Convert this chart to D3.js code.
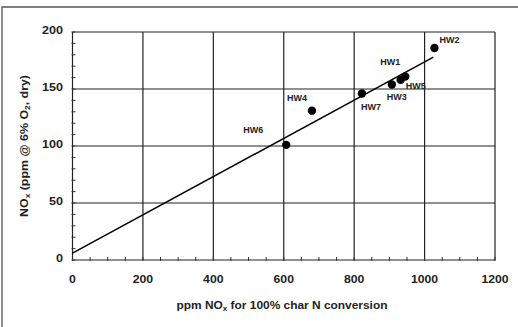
<!DOCTYPE html>
<html>
<head>
<meta charset="utf-8">
<script src="https://cdn.jsdelivr.net/npm/d3@7"></script>
<style>
  body { margin: 0; background: #fff; }
  svg { display: block; font-family: "Liberation Sans", Arial, sans-serif; }
</style>
</head>
<body>
<svg id="chart" width="518" height="327"></svg>
<script>
// data
var names = ["HW1", "HW2", "HW3", "HW4", "HW5", "HW6", "HW7"];
var charN = [945, 1028, 907, 680, 932, 607, 822];
var noxPpm = [161, 186, 154, 131, 158, 101, 146];
var fitX = [0, 1025];
var fitY = [6, 178];
var xTicks = [0, 200, 400, 600, 800, 1000, 1200];
var yTicks = [0, 50, 100, 150, 200];

// label placement (px from point)
var labelDx = [-25, 5, -5, -25, 5, -43, -1];
var labelDy = [-14, -7, 13, -12, 7, -14, 14];

var svg = d3.select("#chart");
var x = d3.scaleLinear().domain([0, 1200]).range([72.5, 495]);
var y = d3.scaleLinear().domain([0, 200]).range([260, 32]);

// outer frame (only top and left edges show)
svg.append("path")
    .attr("d", "M2,327 L2,7 L518,7")
    .attr("fill", "none")
    .attr("stroke", "#555")
    .attr("stroke-width", 1.3);

var g = svg.append("g");

// grid
g.selectAll(".vgrid").data(xTicks).enter().append("line")
    .attr("x1", d => x(d)).attr("x2", d => x(d))
    .attr("y1", y(0)).attr("y2", y(200))
    .attr("stroke", "#222").attr("stroke-width", 1.2);
g.selectAll(".hgrid").data(yTicks).enter().append("line")
    .attr("x1", x(0)).attr("x2", x(1200))
    .attr("y1", d => y(d)).attr("y2", d => y(d))
    .attr("stroke", "#222").attr("stroke-width", 1.2);

// minor ticks
g.selectAll(".ymin").data(d3.range(0, 201, 10)).enter().append("line")
    .attr("x1", x(0) - 1).attr("x2", x(0) + 3)
    .attr("y1", d => y(d)).attr("y2", d => y(d))
    .attr("stroke", "#333").attr("stroke-width", 1);
g.selectAll(".xmin").data(d3.range(0, 1201, 50)).enter().append("line")
    .attr("x1", d => x(d)).attr("x2", d => x(d))
    .attr("y1", y(0) + 1).attr("y2", y(0) - 3)
    .attr("stroke", "#333").attr("stroke-width", 1);

// tick labels
g.selectAll(".ylab").data(yTicks).enter().append("text")
    .attr("x", 63).attr("y", d => y(d) - 1)
    .attr("text-anchor", "end").attr("dominant-baseline", "middle")
    .attr("font-size", 10).attr("font-weight", "bold").attr("fill", "#222")
    .attr("textLength", d => String(d).length * 7)
    .attr("lengthAdjust", "spacingAndGlyphs")
    .text(d => d);
g.selectAll(".xlab").data(xTicks).enter().append("text")
    .attr("x", d => x(d)).attr("y", 280)
    .attr("text-anchor", "middle").attr("dominant-baseline", "middle")
    .attr("font-size", 10).attr("font-weight", "bold").attr("fill", "#222")
    .attr("textLength", d => String(d).length * 6.8)
    .attr("lengthAdjust", "spacingAndGlyphs")
    .text(d => d);

// axis titles
var xt = svg.append("text")
    .attr("x", 282).attr("y", 306)
    .attr("text-anchor", "middle").attr("dominant-baseline", "middle")
    .attr("font-size", 10.5).attr("font-weight", "bold").attr("fill", "#222")
    .attr("textLength", 211).attr("lengthAdjust", "spacingAndGlyphs");
xt.append("tspan").text("ppm NO");
xt.append("tspan").attr("font-size", 7).attr("dy", 3).text("x");
xt.append("tspan").attr("dy", -3).text(" for 100% char N conversion");

var yt = svg.append("text")
    .attr("transform", "translate(25,146) rotate(-90)")
    .attr("text-anchor", "middle").attr("dominant-baseline", "middle")
    .attr("font-size", 10.5).attr("font-weight", "bold").attr("fill", "#222")
    .attr("textLength", 142).attr("lengthAdjust", "spacingAndGlyphs");
yt.append("tspan").text("NO");
yt.append("tspan").attr("font-size", 7).attr("dy", 3).text("x");
yt.append("tspan").attr("dy", -3).text(" (ppm @ 6% O");
yt.append("tspan").attr("font-size", 7).attr("dy", 3).text("2");
yt.append("tspan").attr("dy", -3).text(", dry)");

// fit line
var line = d3.line().x(d => x(d[0])).y(d => y(d[1]));
g.append("path")
    .datum(d3.zip(fitX, fitY))
    .attr("d", line)
    .attr("fill", "none")
    .attr("stroke", "#000").attr("stroke-width", 1.6);

// points
var pts = d3.range(names.length);
g.selectAll(".pt").data(pts).enter().append("circle")
    .attr("cx", i => x(charN[i])).attr("cy", i => y(noxPpm[i]))
    .attr("r", 4.2).attr("fill", "#000");

g.selectAll(".lbl").data(pts).enter().append("text")
    .attr("x", i => x(charN[i]) + labelDx[i])
    .attr("y", i => y(noxPpm[i]) + labelDy[i])
    .attr("dominant-baseline", "middle")
    .attr("font-size", 8.5).attr("font-weight", "bold").attr("fill", "#222")
    .attr("textLength", 20).attr("lengthAdjust", "spacingAndGlyphs")
    .text(i => names[i]);
</script>
</body>
</html>
